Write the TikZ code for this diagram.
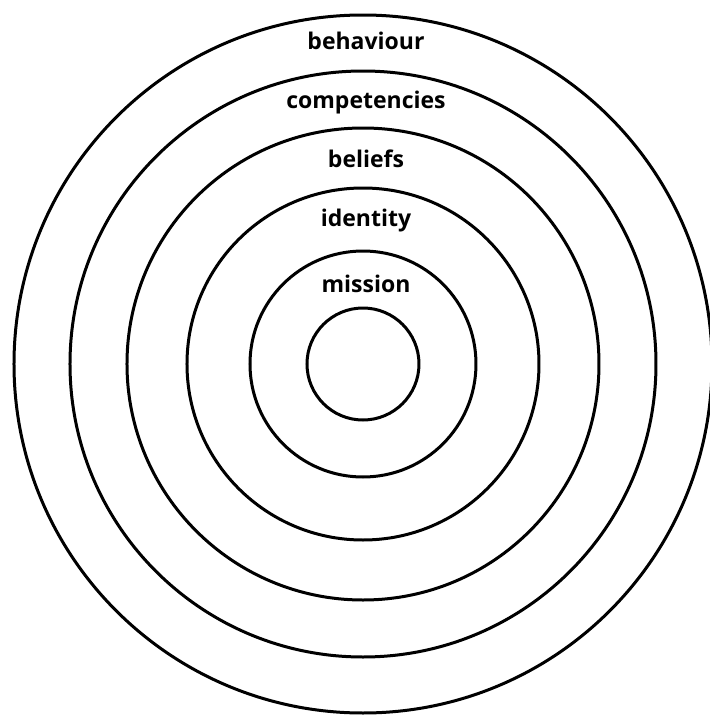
\documentclass[tikz,border=0pt]{standalone}
\usepackage{fontspec}
\setmainfont{Open Sans}
\usepackage{tikz}

\begin{document}
\begin{tikzpicture}[
    x=0.5pt, y=0.5pt,
    ring/.style={draw, line width=1.5pt},
    layer/.style={font=\fontsize{11.5}{13}\selectfont\bfseries, inner sep=0pt}
]
    \useasboundingbox (-363,-355) rectangle (347,364);

    \foreach \r in {56,113,176,236,293,349}
        \draw[ring] (0,0) circle[radius=\r];

    \node[layer] (behaviour) at (3,323) {behaviour};
    \node[layer] (competencies) at (3,261) {competencies};
    \node[layer] (beliefs) at (3,205) {beliefs};
    \node[layer] (identity) at (3,143) {identity};
    \node[layer] (mission) at (3,80) {mission};
\end{tikzpicture}
\end{document}
